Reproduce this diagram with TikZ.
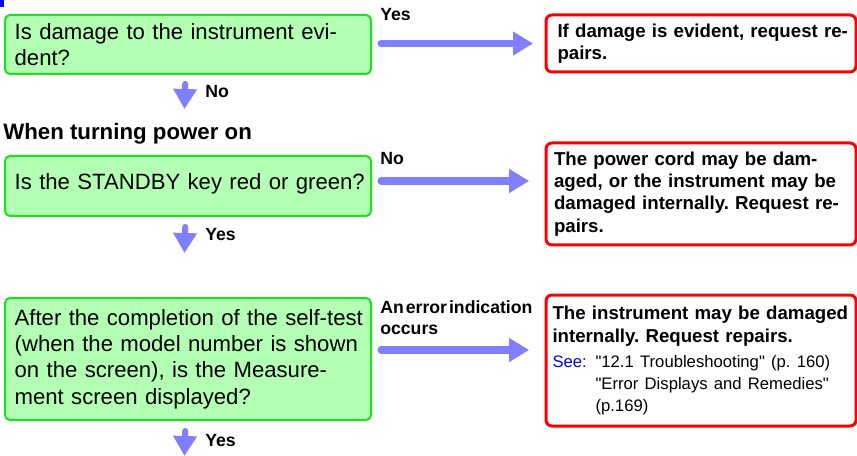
\documentclass[tikz,border=0pt]{standalone}
\usepackage{fontspec}
\setmainfont{Liberation Sans}
\newfontfamily\reffont{Liberation Sans}
\usetikzlibrary{arrows.meta}
\definecolor{gfill}{RGB}{179,255,179}
\definecolor{gline}{RGB}{30,225,30}
\definecolor{rline}{RGB}{255,0,0}
\definecolor{arr}{RGB}{128,128,255}
\definecolor{seeblue}{RGB}{0,0,255}
\newcommand{\jl}[2]{\makebox[#1][s]{#2}}
\frenchspacing
\begin{document}
\begin{tikzpicture}[x=0.75pt,y=-0.75pt,
  qbox/.style={draw=gline, fill=gfill, line width=1.5pt, rounded corners=3.75pt,
    minimum width=274.5pt, text width=260pt, inner xsep=7.25pt, inner ysep=0pt,
    align=left, font=\fontsize{16.6}{19.7}\selectfont, anchor=north west},
  abox/.style={draw=rline, fill=white, line width=2.25pt, rounded corners=4.5pt,
    minimum width=232.5pt, inner ysep=0pt, align=left,
    font=\bfseries\fontsize{14}{16.7}\selectfont, anchor=north west},
  lbl/.style={font=\bfseries\fontsize{13.25}{15.75}\selectfont, anchor=base west, inner sep=0pt},
  harrow/.style={draw=arr, line width=5.6pt, line cap=round,
    -{Triangle[length=15pt,width=17pt]}},
  varrow/.style={draw=arr, line width=4.5pt, line cap=round,
    -{Triangle[length=15pt,width=17pt]}}
]
\useasboundingbox (0,0) rectangle (857,456);
\fill[seeblue] (0,0) rectangle (4,7);

% question boxes
\node[qbox, minimum height=44.25pt] (g1) at (4,14)
  {\jl{260pt}{Is damage to the instrument evi-}\\dent?};
\node[font=\bfseries\fontsize{16.7}{19}\selectfont, anchor=base west, inner sep=0pt] (head) at (3,140) {When turning power on};
\node[qbox, minimum height=45pt] (g2) at (4,155)
  {\mbox{Is the STANDBY key red or green?}\vspace{3pt}};
\node[qbox, minimum height=91.5pt] (g3) at (4,297)
  {\jl{260pt}{After the completion of the self-test}\\
   \jl{260pt}{(when the model number is shown}\\
   \jl{260pt}{on the screen), is the Measure-}\\
   ment screen displayed?};

% answer boxes
\node[abox, minimum height=42.75pt, text width=215.25pt, inner xsep=8.6pt] (r1) at (544.5,13.5)
  {\jl{215.25pt}{If damage is evident, request re-}\\pairs.};
\node[abox, minimum height=76.5pt, text width=220.5pt, inner xsep=6pt] (r2) at (544.5,141.5)
  {\jl{220.5pt}{The power cord may be dam-}\\
   \jl{220.5pt}{aged, or the instrument may be}\\
   \jl{220.5pt}{damaged internally. Request re-}\\
   pairs.};
\node[abox, minimum height=98.25pt, text width=222.75pt, inner xsep=4.9pt] (r3) at (544.5,293.5)
  {{\jl{222.75pt}{The instrument may be damaged}\\internally. Request repairs.\par}
   \vspace{2.25pt}
   {\mdseries\reffont\fontsize{12.5}{16.5}\selectfont
    \makebox[32.25pt][l]{\color{seeblue}See:}"12.1 Troubleshooting" (p. 160)\\
    \hspace*{32.25pt}"Error Displays and Remedies"\\
    \hspace*{32.25pt}(p.169)\par}};

% horizontal connectors
\coordinate (h1s) at ([yshift=0.75pt]g1.east);
\coordinate (h2s) at ([yshift=3.75pt]g2.east);
\coordinate (h3s) at ([yshift=6.75pt]g3.east);
\draw[harrow, shorten <=6.9pt, shorten >=8.6pt] (h1s) -- (h1s -| r1.west);
\draw[harrow, shorten <=6.9pt, shorten >=11.5pt] (h2s) -- (h2s -| r2.west);
\draw[harrow, shorten <=6.9pt, shorten >=11.5pt] (h3s) -- (h3s -| r3.west);
\node[lbl] (l1) at (380,20.5) {Yes};
\node[lbl] (l2) at (380,165) {No};
\node[lbl] (l3a) at (380,313) {An\hspace{1.5pt}error\hspace{1.5pt}indication};
\node[lbl] (l3b) at (380,334) {occurs};

% vertical connectors
\coordinate (v1s) at ([xshift=-1.875pt]g1.south);
\coordinate (v2s) at ([xshift=-1.875pt]g2.south);
\coordinate (v3s) at ([xshift=-1.875pt]g3.south);
\coordinate (v1e) at (184.5,109);
\coordinate (v2e) at (184.5,253);
\coordinate (v3e) at (184.5,456);
\draw[varrow, shorten <=6.75pt] (v1s) -- (v1e);
\draw[varrow, shorten <=7.5pt] (v2s) -- (v2e);
\draw[varrow, shorten <=7.5pt] (v3s) -- (v3e);
\node[lbl] (d1) at (205,98) {No};
\node[lbl] (d2) at (205,241) {Yes};
\node[lbl] (d3) at (205,446) {Yes};
\end{tikzpicture}
\end{document}
